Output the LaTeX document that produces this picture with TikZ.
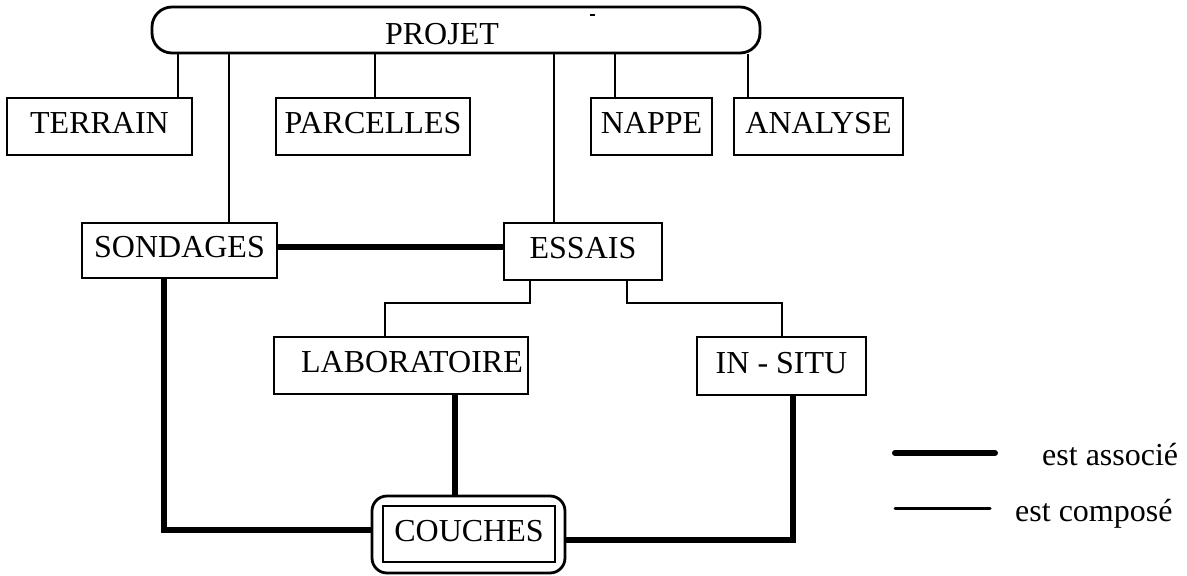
\documentclass[tikz,border=0pt]{standalone}
\usepackage{fontspec}
\setmainfont{Liberation Serif}
\begin{document}
\begin{tikzpicture}[x=1pt,y=-1pt,
  lbl/.style={font=\fontsize{32}{36}\selectfont},
  entity/.style={draw, line width=2.8pt, inner sep=0pt, lbl, text height=22pt, text depth=8pt},
  compose/.style={line width=2.6pt},
  assoc/.style={line width=5.5pt},
]
\useasboundingbox (0,0) rectangle (1187,576);

% root of the hierarchy
\node[draw, line width=2.8pt, rounded corners=20pt, minimum width=608pt, minimum height=46pt,
      inner sep=0pt, lbl, text height=28pt, text depth=0pt] (projet) at (456,30) {PROJET\hspace*{28pt}};
\draw[line width=1.5pt] (590,15) -- (595,15);

% first level
\node[entity, minimum width=185pt, minimum height=57pt] (terrain)   at (99.5,126.5) {TERRAIN};
\node[entity, minimum width=194pt, minimum height=57pt] (parcelles) at (373,126.5)  {PARCELLES};
\node[entity, minimum width=121pt, minimum height=57pt] (nappe)     at (651.5,126.5) {NAPPE};
\node[entity, minimum width=169pt, minimum height=57pt] (analyse)   at (818.5,126.5) {ANALYSE};
\node[entity, minimum width=195pt, minimum height=55pt] (sondages)  at (179.5,250.5) {SONDAGES};
\node[entity, minimum width=158pt, minimum height=57pt] (essais)    at (583,251.5)   {ESSAIS};

% tests
\node[entity, minimum width=254pt, minimum height=57pt] (labo)   at (401,365.5) {\hspace*{22pt}LABORATOIRE};
\node[entity, minimum width=169pt, minimum height=58pt] (insitu) at (781.5,366) {IN - SITU};

% layers (double frame)
\node[draw, line width=2.8pt, rounded corners=15pt, minimum width=193pt, minimum height=77pt,
      inner sep=0pt] (couchesframe) at (468.5,534.5) {};
\node[entity, minimum width=172pt, minimum height=56pt] (couches) at (469,534) {COUCHES};

% composition links
\draw[compose] (178,0 |- projet.south) -- (178,0 |- terrain.north);
\draw[compose] (229,0 |- projet.south) -- (229,0 |- sondages.north);
\draw[compose] (375,0 |- projet.south) -- (375,0 |- parcelles.north);
\draw[compose] (554,0 |- projet.south) -- (554,0 |- essais.north);
\draw[compose] (615,0 |- projet.south) -- (615,0 |- nappe.north);
\draw[compose] (748,0 |- projet.south) -- (748,0 |- analyse.north);
\draw[compose] (530,0 |- essais.south) -- (530,303) -| (385,0 |- labo.north);
\draw[compose] (627,0 |- essais.south) -- (627,303) -| (782,0 |- insitu.north);

% association links
\draw[assoc] (sondages.east |- 0,247) -- (essais.west |- 0,247);
\draw[assoc] (164,0 |- sondages.south) |- (couchesframe.west |- 0,530);
\draw[assoc] (455,0 |- labo.south) -- (455,0 |- couchesframe.north);
\draw[assoc] (793,0 |- insitu.south) |- (couchesframe.east |- 0,540);

% legend
\coordinate (assocA) at (895,453);
\coordinate (assocB) at (995,453);
\coordinate (compA) at (895,508);
\coordinate (compB) at (990,508);
\draw[line width=6pt, line cap=round] (assocA) -- (assocB);
\draw[line width=3pt, line cap=round] (compA) -- (compB);
\node[lbl, anchor=base west, inner sep=0pt] (assoctxt) at (1042,465) {est associé};
\node[lbl, anchor=base west, inner sep=0pt] (comptxt)  at (1015,521) {est composé};
\end{tikzpicture}
\end{document}
